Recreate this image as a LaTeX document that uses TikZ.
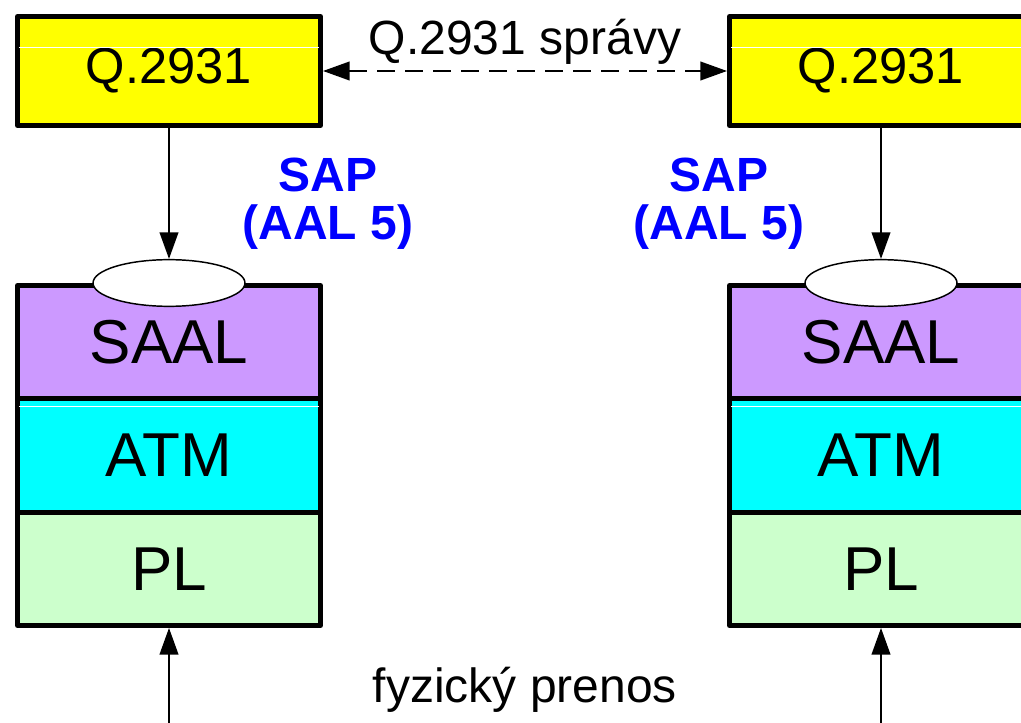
\documentclass[tikz,border=0pt]{standalone}
\usepackage{fontspec}
\setmainfont{Liberation Sans}
\usetikzlibrary{arrows.meta,shapes.geometric}
\definecolor{qyellow}{HTML}{FFFF00}
\definecolor{saalpurple}{HTML}{CC99FF}
\definecolor{atmcyan}{HTML}{00FFFF}
\definecolor{plgreen}{HTML}{CCFFCC}
\definecolor{sapblue}{HTML}{0000FF}
\tikzset{
  box/.style={draw=black, line width=3.75pt, line join=round, minimum width=227.25pt, inner sep=0pt},
  qbox/.style={box, fill=qyellow, minimum height=81.75pt, font=\fontsize{38}{40}\selectfont},
  layer/.style={box, minimum height=85pt, font=\fontsize{46.5}{50}\selectfont},
  sap/.style={ellipse, draw=black, fill=white, line width=1.1pt, minimum width=114pt, minimum height=35pt, inner sep=0pt},
  arr/.style={line width=1.5pt, -{Triangle[length=20pt,width=14pt]}},
  darr/.style={line width=1.5pt, dash pattern=on 13.5pt off 7.5pt, {Triangle[length=20pt,width=14pt]}-{Triangle[length=20pt,width=14pt]}},
  lbl/.style={font=\fontsize{36}{40}\selectfont, inner sep=0pt, anchor=base},
  saplbl/.style={lbl, text=sapblue, font=\fontsize{36}{40}\selectfont\bfseries},
  glint/.style={white, line width=0.75pt}
}
\begin{document}
\begin{tikzpicture}[x=0.75pt, y=-0.75pt]
\clip (0,0) rectangle (1021,723);
\fill[white] (0,0) rectangle (1021,723);
% left stack
\node[qbox] (qL) at (169,71) {Q.2931};
\node[layer, fill=saalpurple] (saalL) at (169,342.2) {SAAL};
\node[layer, fill=atmcyan] (atmL) at (169,455.5) {ATM};
\node[layer, fill=plgreen] (plL) at (169,568.8) {PL};
\node[sap] (eL) at (169,283) {};
% right stack
\node[qbox] (qR) at (881,71) {Q.2931};
\node[layer, fill=saalpurple] (saalR) at (881,342.2) {SAAL};
\node[layer, fill=atmcyan] (atmR) at (881,455.5) {ATM};
\node[layer, fill=plgreen] (plR) at (881,568.8) {PL};
\node[sap] (eR) at (881,283) {};
% thin white streaks
\draw[glint] (19,48) -- (319,48);
\draw[glint] (731,48) -- (1021,48);
\draw[glint] (19,407) -- (319,407);
\draw[glint] (731,407) -- (1021,407);
% connectors
\draw[arr] (qL.south) -- (eL.north);
\draw[arr] (qR.south) -- (eR.north);
\draw[darr] (qL.east) -- (qR.west);
\coordinate (bL) at (169,723);
\coordinate (bR) at (881,723);
\draw[arr] (bL) -- (plL.south);
\draw[arr] (bR) -- (plR.south);
% labels
\node[lbl] (msg) at (525,55) {Q.2931 správy};
\node[lbl] (phys) at (525,702) {fyzický prenos};
\node[saplbl] (sapL1) at (328,192) {SAP};
\node[saplbl] (sapL2) at (328,240) {(AAL 5)};
\node[saplbl] (sapR1) at (719,192) {SAP};
\node[saplbl] (sapR2) at (719,240) {(AAL 5)};
\end{tikzpicture}
\end{document}
